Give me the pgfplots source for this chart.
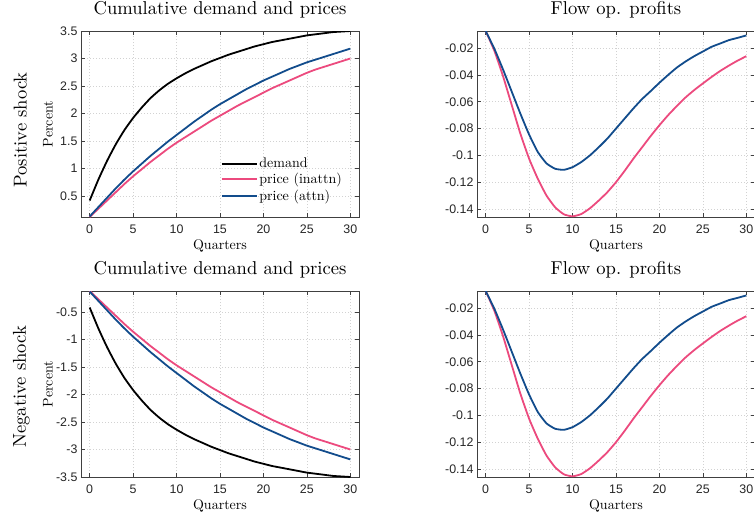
\documentclass[border=0pt]{standalone}
\usepackage{pgfplots}
\pgfplotsset{compat=1.18}
\usepackage{pgfplotstable}
\usepackage{fontspec}
\setmainfont{lmroman10-regular}[Extension=.otf]
\newfontfamily\tickfont{Liberation Sans}
\definecolor{pinkc}{RGB}{236,74,126}
\definecolor{bluec}{RGB}{18,76,140}
\definecolor{axc}{RGB}{64,64,64}
\definecolor{tickc}{RGB}{38,38,38}

\pgfplotstableread{
t dem pin pat
0 0.42 0.12 0.13
1 0.80 0.27 0.30
2 1.14 0.42 0.47
3 1.44 0.57 0.64
4 1.70 0.72 0.80
5 1.92 0.86 0.95
6 2.11 0.99 1.09
7 2.28 1.12 1.23
8 2.42 1.24 1.36
9 2.54 1.36 1.49
10 2.64 1.47 1.61
11 2.73 1.57 1.73
12 2.81 1.67 1.85
13 2.88 1.77 1.96
14 2.95 1.87 2.07
15 3.01 1.96 2.17
16 3.07 2.05 2.26
17 3.12 2.14 2.35
18 3.17 2.22 2.44
19 3.22 2.30 2.52
20 3.26 2.38 2.60
21 3.30 2.46 2.67
22 3.33 2.53 2.74
23 3.36 2.60 2.81
24 3.39 2.67 2.87
25 3.42 2.74 2.93
26 3.44 2.80 2.98
27 3.46 2.85 3.03
28 3.48 2.90 3.08
29 3.49 2.95 3.13
30 3.50 3.00 3.18
}\cumpos

\pgfplotstableread{
t dem pin pat
0 -0.42 -0.12 -0.13
1 -0.80 -0.27 -0.30
2 -1.14 -0.42 -0.47
3 -1.44 -0.57 -0.64
4 -1.70 -0.72 -0.80
5 -1.92 -0.86 -0.95
6 -2.11 -0.99 -1.09
7 -2.28 -1.12 -1.23
8 -2.42 -1.24 -1.36
9 -2.54 -1.36 -1.49
10 -2.64 -1.47 -1.61
11 -2.73 -1.57 -1.73
12 -2.81 -1.67 -1.85
13 -2.88 -1.77 -1.96
14 -2.95 -1.87 -2.07
15 -3.01 -1.96 -2.17
16 -3.07 -2.05 -2.26
17 -3.12 -2.14 -2.35
18 -3.17 -2.22 -2.44
19 -3.22 -2.30 -2.52
20 -3.26 -2.38 -2.60
21 -3.30 -2.46 -2.67
22 -3.33 -2.53 -2.74
23 -3.36 -2.60 -2.81
24 -3.39 -2.67 -2.87
25 -3.42 -2.74 -2.93
26 -3.44 -2.80 -2.98
27 -3.46 -2.85 -3.03
28 -3.48 -2.90 -3.08
29 -3.49 -2.95 -3.13
30 -3.50 -3.00 -3.18
}\cumneg

\pgfplotstableread{
t pin pat
0 -0.0072 -0.0072
1 -0.0220 -0.0205
2 -0.0410 -0.0360
3 -0.0625 -0.0525
4 -0.0840 -0.0690
5 -0.1025 -0.0845
6 -0.1175 -0.0975
7 -0.1300 -0.1060
8 -0.1388 -0.1100
9 -0.1440 -0.1108
10 -0.1455 -0.1088
11 -0.1438 -0.1050
12 -0.1395 -0.1000
13 -0.1338 -0.0940
14 -0.1275 -0.0875
15 -0.1200 -0.0800
16 -0.1115 -0.0725
17 -0.1025 -0.0650
18 -0.0940 -0.0580
19 -0.0855 -0.0520
20 -0.0775 -0.0458
21 -0.0700 -0.0400
22 -0.0632 -0.0345
23 -0.0568 -0.0300
24 -0.0513 -0.0260
25 -0.0463 -0.0225
26 -0.0415 -0.0190
27 -0.0370 -0.0165
28 -0.0330 -0.0140
29 -0.0293 -0.0123
30 -0.0260 -0.0105
}\profit

\pgfplotsset{
  myax/.style={
    scale only axis, width=278pt, height=186pt,
    xmin=-1, xmax=31,
    xtick={0,5,10,15,20,25,30},
    xticklabels={0,5,10,15,20,25,30},
    axis line style={axc, line width=0.8pt},
    tick style={axc, line width=0.6pt},
    major tick length=4pt,
    grid=major, major grid style={dash pattern=on 0.6pt off 2.4pt, gray!35, line width=0.6pt},
    ticklabel style={font=\tickfont\fontsize{12.4}{14}\selectfont, text=tickc},
    xticklabel style={yshift=-4pt},
    xlabel={Quarters},
    xlabel style={font=\fontsize{14}{16}\selectfont, at={(axis description cs:0.5,0)}, anchor=base, yshift=-32pt},
    title style={font=\fontsize{18.6}{20}\selectfont, at={(axis description cs:0.5,1)}, anchor=base, yshift=11pt},
    every axis plot/.append style={line width=1.8pt, no marks, smooth, tension=0.3},
    clip mode=individual,
  },
  pctlabel/.style={
    ylabel={Percent},
    ylabel style={font=\fontsize{14}{16}\selectfont, at={(axis description cs:-0.102,0.5)}, anchor=base},
  },
}

\begin{document}
\begin{tikzpicture}
\useasboundingbox (0,0) rectangle (754pt,-517pt);

% top left
\begin{axis}[myax, pctlabel, at={(81pt,-31pt)}, anchor=north west,
  title={Cumulative demand and prices},
  ymin=0.12, ymax=3.5,
  ytick={0.5,1,1.5,2,2.5,3,3.5},
  yticklabels={0.5,1,1.5,2,2.5,3,3.5},
  legend style={at={(axis description cs:0.502,0.327)}, anchor=north west, draw=none, fill=none,
    font=\fontsize{14}{16}\selectfont, row sep=1pt, inner sep=0pt, nodes={inner sep=1.6pt}},
  legend cell align=left,
  legend image code/.code={\draw[#1, line width=2pt, line cap=butt] (0pt,0pt) -- (35pt,0pt);},
]
\addplot[black, line width=1.8pt] table[x=t, y=dem] {\cumpos};
\addplot[pinkc] table[x=t, y=pin] {\cumpos};
\addplot[bluec] table[x=t, y=pat] {\cumpos};
\legend{demand, price (inattn), price (attn)}
\node[rotate=90, anchor=base, font=\fontsize{18.6}{20}\selectfont] at (axis description cs:-0.196,0.468) {Positive shock};
\end{axis}

% top right
\begin{axis}[myax, at={(477pt,-31pt)}, anchor=north west,
  title={Flow op. profits},
  ymin=-0.146, ymax=-0.0072,
  ytick={-0.14,-0.12,-0.1,-0.08,-0.06,-0.04,-0.02},
  yticklabels={-0.14,-0.12,-0.1,-0.08,-0.06,-0.04,-0.02},
]
\addplot[pinkc] table[x=t, y=pin] {\profit};
\addplot[bluec] table[x=t, y=pat] {\profit};
\end{axis}

% bottom left
\begin{axis}[myax, pctlabel, at={(81pt,-291pt)}, anchor=north west,
  title={Cumulative demand and prices},
  ymin=-3.5, ymax=-0.12,
  ytick={-3.5,-3,-2.5,-2,-1.5,-1,-0.5},
  yticklabels={-3.5,-3,-2.5,-2,-1.5,-1,-0.5},
]
\addplot[black] table[x=t, y=dem] {\cumneg};
\addplot[pinkc] table[x=t, y=pin] {\cumneg};
\addplot[bluec] table[x=t, y=pat] {\cumneg};
\node[rotate=90, anchor=base, font=\fontsize{18.6}{20}\selectfont] at (axis description cs:-0.198,0.485) {Negative shock};
\end{axis}

% bottom right
\begin{axis}[myax, at={(477pt,-291pt)}, anchor=north west,
  title={Flow op. profits},
  ymin=-0.146, ymax=-0.0072,
  ytick={-0.14,-0.12,-0.1,-0.08,-0.06,-0.04,-0.02},
  yticklabels={-0.14,-0.12,-0.1,-0.08,-0.06,-0.04,-0.02},
]
\addplot[pinkc] table[x=t, y=pin] {\profit};
\addplot[bluec] table[x=t, y=pat] {\profit};
\end{axis}
\end{tikzpicture}
\end{document}
